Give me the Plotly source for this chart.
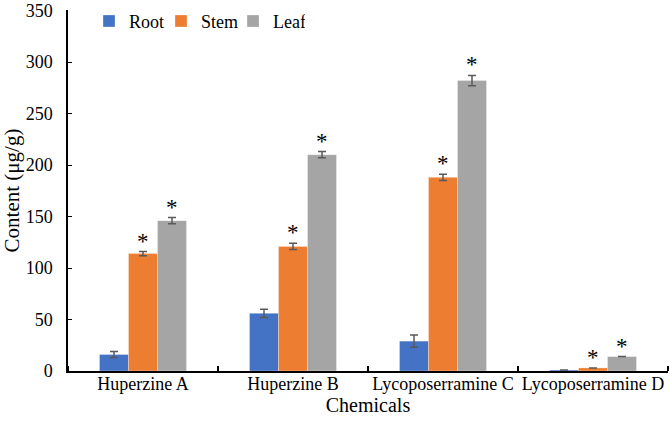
import plotly.graph_objects as go

chemicals = ["Huperzine A", "Huperzine B", "Lycoposerramine C", "Lycoposerramine D"]
series_names = ["Root", "Stem", "Leaf"]
root_vals = [16, 56, 29, 1]
stem_vals = [114, 121, 188, 3]
leaf_vals = [146, 210, 282, 14]
root_err = [3, 4, 6, 0]
stem_err = [2, 3, 3, 0]
leaf_err = [3, 3, 5, 0]
root_sig = [False, False, False, False]
stem_sig = [True, True, True, True]
leaf_sig = [True, True, True, True]
y_ticks = [0, 50, 100, 150, 200, 250, 300, 350]
colors = ["#4472C4", "#ED7D31", "#A5A5A5"]

FONT = "Liberation Serif"
bargap = 0.42
bw = (1 - bargap) / 3
offsets = [-bw, 0, bw]

fig = go.Figure()
xs = list(range(len(chemicals)))
data = [(root_vals, root_err, root_sig), (stem_vals, stem_err, stem_sig), (leaf_vals, leaf_err, leaf_sig)]
for k, (vals, errs, sig) in enumerate(data):
    fig.add_trace(go.Bar(
        x=[x + offsets[k] for x in xs], y=vals, width=bw, name=series_names[k],
        marker=dict(color=colors[k], line=dict(color="rgba(255,255,255,0.6)", width=0.5)),
        error_y=dict(type="data", array=errs, visible=True, color="#595959", thickness=1.5, width=4),
    ))
    for i, s in enumerate(sig):
        if s:
            fig.add_annotation(x=xs[i] + offsets[k], y=vals[i] + errs[i], text="*", showarrow=False,
                               yanchor="bottom", yshift=-4, font=dict(family=FONT, size=23, color="black"))

fig.update_layout(
    width=670, height=434, paper_bgcolor="white", plot_bgcolor="white",
    margin=dict(l=68, r=2, t=10, b=63, autoexpand=False),
    font=dict(family=FONT, size=18, color="black"),
    showlegend=True,
    legend=dict(orientation="h", x=0.035, y=1.02, xanchor="left", yanchor="top",
                font=dict(family=FONT, size=18), entrywidth=27, itemwidth=30,
                bgcolor="rgba(0,0,0,0)"),
    barmode="overlay",
)
fig.update_xaxes(
    range=[-0.5, len(chemicals) - 0.5], tickvals=xs, ticktext=chemicals, ticks="",
    showline=True, linecolor="black", linewidth=1.5, showgrid=False, zeroline=False,
    minor=dict(ticks="inside", tick0=-0.5, dtick=1, ticklen=5, tickcolor="black", tickwidth=1.5, showgrid=False),
    tickfont=dict(family=FONT, size=18), automargin=False, ticklabelstandoff=-4,
    ticklabeloverflow="allow",
    title=dict(text="Chemicals", font=dict(family=FONT, size=20), standoff=2),
)
fig.update_yaxes(
    range=[0, 350.5], tickvals=y_ticks, ticks="inside", ticklen=4,
    tickcolor="black", tickwidth=1,
    showline=True, linecolor="black", linewidth=1.5, showgrid=False, zeroline=False,
    tickfont=dict(family=FONT, size=18), ticklabelstandoff=10, automargin=False,
    ticklabeloverflow="allow",
    title=dict(text="Content (μg/g)", font=dict(family=FONT, size=21), standoff=6),
)
fig.write_html("out.html", config={"displayModeBar": False},
               post_script="document.body.style.margin='0';document.body.style.overflow='hidden';")
